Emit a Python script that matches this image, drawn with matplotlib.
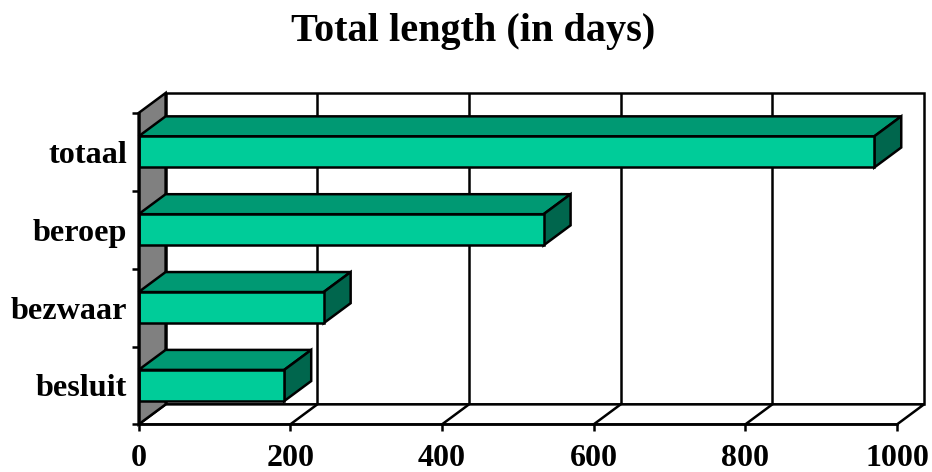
#!/usr/bin/env python
# -*- coding: utf-8 -*-
# Fake 3D horizontal bar chart, depth is drawn with plain polygons

# Imports ===========================================
import numpy as np
import matplotlib
matplotlib.use('Agg')
import matplotlib.pyplot as plt
from matplotlib.patches import Polygon

# Data ==============================================
categories = ['besluit', 'bezwaar', 'beroep', 'totaal']
days = [192, 244, 534, 970]
xticks = [0, 200, 400, 600, 800, 1000]
title = 'Total length (in days)'

# Style =============================================
plt.rcParams['font.family'] = 'Liberation Serif'
plt.rcParams['font.weight'] = 'bold'

front_col = '#00CC99'
top_col = '#009973'
side_col = '#00664D'
wall_col = '#808080'
lw = 1.8

depth_x = 35.6   # depth of the 3D box, in days
depth_y = 0.257  # depth of the 3D box, in category bands
bar_h = 0.40

# Figure ============================================
W, H = 932, 472
fig = plt.figure(figsize=(W/100, H/100), dpi=100)
ax = fig.add_axes([138.6/W, (H-424.4)/H, (897-138.6)/W, (424.4-113)/H])
ax.set_xlim(0, 1000)
ax.set_ylim(-0.5, 3.5)
ax.patch.set_visible(False)

ymin, ymax = ax.get_ylim()
xmax = ax.get_xlim()[1]

# Back wall, floor and grey side wall
ax.add_patch(Polygon([(depth_x, ymin+depth_y), (xmax+depth_x, ymin+depth_y),
                      (xmax+depth_x, ymax+depth_y), (depth_x, ymax+depth_y)],
                     fc='white', ec='black', lw=lw, clip_on=False, zorder=1))
ax.add_patch(Polygon([(0, ymin), (xmax, ymin), (xmax+depth_x, ymin+depth_y), (depth_x, ymin+depth_y)],
                     fc='white', ec='black', lw=lw, clip_on=False, zorder=1))
ax.add_patch(Polygon([(0, ymin), (depth_x, ymin+depth_y), (depth_x, ymax+depth_y), (0, ymax)],
                     fc=wall_col, ec='black', lw=lw, clip_on=False, zorder=1))

# Gridlines on back wall and floor
for t in xticks[1:-1]:
    ax.plot([t+depth_x, t+depth_x], [ymin+depth_y, ymax+depth_y], color='black', lw=lw,
            clip_on=False, zorder=1.5, solid_capstyle='butt')
    ax.plot([t, t+depth_x], [ymin, ymin+depth_y], color='black', lw=lw,
            clip_on=False, zorder=1.5)

# Bars
ypos = np.arange(len(categories))
ax.barh(ypos, days, height=bar_h, color=front_col, edgecolor='black', linewidth=lw, zorder=3)
for y, d in zip(ypos, days):
    lo, hi = y-bar_h/2, y+bar_h/2
    ax.add_patch(Polygon([(0, hi), (d, hi), (d+depth_x, hi+depth_y), (depth_x, hi+depth_y)],
                         fc=top_col, ec='black', lw=lw, clip_on=False, zorder=2.5, joinstyle='miter'))
    ax.add_patch(Polygon([(d, lo), (d+depth_x, lo+depth_y), (d+depth_x, hi+depth_y), (d, hi)],
                         fc=side_col, ec='black', lw=lw, clip_on=False, zorder=2.5, joinstyle='miter'))

# Axes lines and ticks
for s in ['top', 'right']:
    ax.spines[s].set_visible(False)
for s in ['left', 'bottom']:
    ax.spines[s].set_linewidth(lw)
    ax.spines[s].set_zorder(4)

ax.set_xticks(xticks)
ax.set_xticklabels([str(t) for t in xticks])
ax.set_yticks(np.arange(ymin, ymax+0.5))
ax.set_yticklabels([])
ax.set_yticks(ypos, minor=True)
ax.set_yticklabels(categories, minor=True)
ax.tick_params(axis='x', which='major', length=5, width=lw, labelsize=23, pad=9)
ax.tick_params(axis='y', which='major', length=5, width=lw)
ax.tick_params(axis='y', which='minor', length=0, labelsize=23.2, pad=8)

fig.text(473/W, 1-31/H, title, ha='center', va='center', fontsize=29, fontweight='bold')

plt.savefig('out.png', dpi=100)
